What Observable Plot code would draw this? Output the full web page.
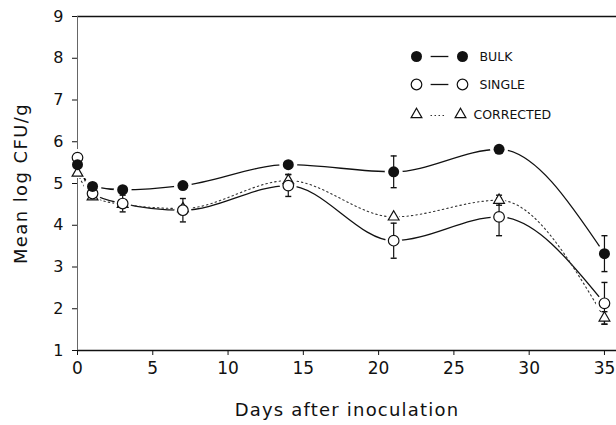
<!DOCTYPE html>
<html><head><meta charset="utf-8">
<script src="https://cdn.jsdelivr.net/npm/d3@7"></script>
<script src="https://cdn.jsdelivr.net/npm/@observablehq/plot@0.6"></script>
<style>
body{margin:0;background:#fff}#chart{width:616px;height:425px}
#chart svg g[aria-label="x-axis label"] text{font-size:18px;letter-spacing:1.2px}
#chart svg g[aria-label="y-axis label"] text{font-size:18px;letter-spacing:1.4px}
</style>
</head><body><div id="chart"></div>
<script>
const days = [0, 1, 3, 7, 14, 21, 28, 35];
const bulk = [5.45, 4.93, 4.85, 4.95, 5.45, 5.28, 5.82, 3.32];
const single = [5.62, 4.76, 4.52, 4.36, 4.95, 3.63, 4.2, 2.13];
const corrected = [5.25, 4.68, 4.5, 4.4, 5.07, 4.2, 4.6, 1.78];
const bulkErr = [0, 0, 0, 0, 0, 0.38, 0, 0.43];
const singleErr = [0, 0, 0.2, 0.28, 0.26, 0.42, 0.45, 0.5];
const correctedErr = [0, 0, 0, 0, 0.15, 0, 0.12, 0.15];
const xTicks = [0, 5, 10, 15, 20, 25, 30, 35];
const yTicks = [1, 2, 3, 4, 5, 6, 7, 8, 9];
const legendLabels = ["BULK", "SINGLE", "CORRECTED"];

const toRows = (vals, errs) => days.map((d, i) => ({day: d, v: vals[i], e: errs[i], lo: vals[i] - errs[i], hi: vals[i] + errs[i]}));
const B = toRows(bulk, bulkErr), S = toRows(single, singleErr), C = toRows(corrected, correctedErr);
const withErr = (rows) => rows.filter(r => r.e > 0);

const cap = {draw(ctx, size) { const h = Math.sqrt(size) / 2; ctx.moveTo(-h, 0); ctx.lineTo(h, 0); }};

function errMarks(rows) {
  const r = withErr(rows);
  return [
    Plot.ruleX(r, {x: "day", y1: "lo", y2: "hi", stroke: "#111", strokeWidth: 1.2}),
    Plot.dot(r, {x: "day", y: "lo", symbol: cap, r: 3.4, stroke: "#111", strokeWidth: 1.4}),
    Plot.dot(r, {x: "day", y: "hi", symbol: cap, r: 3.4, stroke: "#111", strokeWidth: 1.4})
  ];
}

const legX = 339, legGap = 46, legTextX = 402;
const legRows = [40, 68, 98];
function legendMarks() {
  const m = [];
  const at = (dx, dy) => ({frameAnchor: "top-left", dx, dy});
  m.push(Plot.dot([0], {...at(legX, legRows[0]), r: 5.5, fill: "#111", stroke: "none"}));
  m.push(Plot.dot([0], {...at(legX + legGap, legRows[0]), r: 5.5, fill: "#111", stroke: "none"}));
  m.push(Plot.dot([0], {...at(legX + legGap / 2, legRows[0]), symbol: cap, r: 10, stroke: "#111", strokeWidth: 1.3}));
  m.push(Plot.dot([0], {...at(legX, legRows[1]), r: 5.3, fill: "white", stroke: "#111", strokeWidth: 1.2}));
  m.push(Plot.dot([0], {...at(legX + legGap, legRows[1]), r: 5.3, fill: "white", stroke: "#111", strokeWidth: 1.2}));
  m.push(Plot.dot([0], {...at(legX + legGap / 2, legRows[1]), symbol: cap, r: 10, stroke: "#111", strokeWidth: 1.3}));
  m.push(Plot.dot([0], {...at(legX, legRows[2]), symbol: "triangle", r: 4, fill: "white", stroke: "#111", strokeWidth: 1.2}));
  m.push(Plot.dot([0], {...at(legX + legGap - 2, legRows[2]), symbol: "triangle", r: 4, fill: "white", stroke: "#111", strokeWidth: 1.2}));
  m.push(Plot.dot([0], {...at(legX + legGap / 2 - 1, legRows[2] + 1), symbol: cap, r: 9, stroke: "#333", strokeWidth: 1, strokeDasharray: "1.5,2.5"}));
  legendLabels.forEach((t, i) => {
    m.push(Plot.text([t], {text: d => d, ...at(i === 2 ? legTextX - 6 : legTextX, legRows[i]), lineAnchor: "middle", textAnchor: "start", fontSize: 12.5, fill: "#111"}));
  });
  return m;
}

const chart = Plot.plot({
  width: 616, height: 425,
  marginLeft: 77, marginRight: 0, marginTop: 16, marginBottom: 75,
  style: {fontFamily: "DejaVu Sans", fontSize: "15px", background: "white", color: "#111"},
  x: {domain: [0, 35.8]},
  y: {domain: [1, 9]},
  marks: [
    Plot.ruleY([9], {stroke: "#111", strokeWidth: 1.3}),
    Plot.ruleY([1], {stroke: "#111", strokeWidth: 1.3}),
    Plot.ruleX([0], {stroke: "#666", strokeWidth: 1}),
    Plot.axisX({ticks: xTicks, tickSize: 5, tickPadding: 6, fontSize: 17, label: "Days after inoculation", labelAnchor: "center", labelArrow: "none", labelOffset: 65}),
    Plot.axisY({ticks: yTicks, tickSize: 5, tickPadding: 9, fontSize: 16, label: "Mean log CFU/g", labelAnchor: "center", labelArrow: "none", labelOffset: 63}),
    Plot.line(B, {x: "day", y: "v", curve: "monotone-x", stroke: "#111", strokeWidth: 1.3}),
    Plot.line(S, {x: "day", y: "v", curve: "monotone-x", stroke: "#111", strokeWidth: 1.3}),
    Plot.line(C, {x: "day", y: "v", curve: "monotone-x", stroke: "#333", strokeWidth: 1.1, strokeDasharray: "1.5,3"}),
    Plot.dot(B, {x: "day", y: "v", r: 9, fill: "white", stroke: "none"}),
    Plot.dot(S, {x: "day", y: "v", r: 8.5, fill: "white", stroke: "none"}),
    Plot.dot(C, {x: "day", y: "v", r: 6.5, symbol: "triangle", fill: "white", stroke: "none"}),
    ...errMarks(B), ...errMarks(S), ...errMarks(C),
    Plot.dot(C, {x: "day", y: "v", r: 4, symbol: "triangle", fill: "white", stroke: "#111", strokeWidth: 1.2}),
    Plot.dot(S, {x: "day", y: "v", r: 5.3, fill: "white", stroke: "#111", strokeWidth: 1.2}),
    Plot.dot(B, {x: "day", y: "v", r: 5.5, fill: "#111", stroke: "none"}),
    ...legendMarks()
  ]
});
document.getElementById("chart").append(chart);
</script>
</body></html>
